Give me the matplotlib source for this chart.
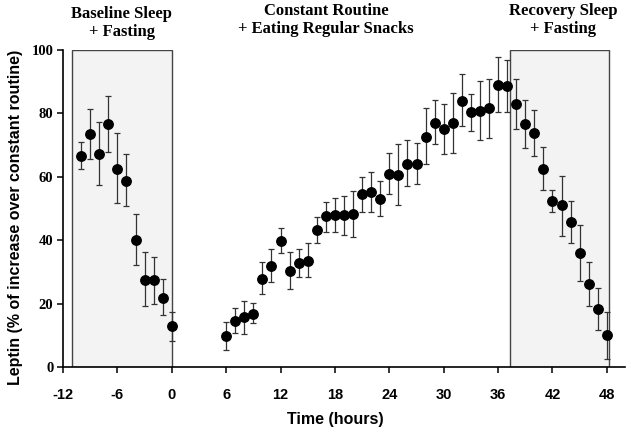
import numpy as np
import matplotlib.pyplot as plt
from matplotlib.patches import Rectangle

# Baseline sleep + fasting (hours -10 .. 0)
base_hours = [-10, -9, -8, -7, -6, -5, -4, -3, -2, -1, 0]
base_mean = [66.7, 73.6, 67.3, 76.7, 62.6, 58.6, 40.2, 27.4, 27.3, 21.9, 12.8]
base_upper = [71.1, 81.5, 77.3, 85.5, 73.7, 67.1, 48.3, 36.2, 34.8, 27.7, 17.4]
base_lower = [62.4, 65.6, 57.3, 67.7, 51.6, 50.8, 32.1, 19.2, 19.9, 16.3, 8.3]

# Constant routine (6 .. 37) and recovery sleep (38 .. 48)
cr_hours = list(range(6, 49))
cr_mean = [9.8, 14.5, 15.7, 16.8, 27.9, 32.0, 39.8, 30.4, 32.9, 33.4, 43.2,
           47.6, 47.9, 47.9, 48.3, 54.5, 55.2, 53.0, 60.8, 60.6, 64.0, 64.0,
           72.6, 77.1, 75.0, 76.9, 84.0, 80.3, 80.9, 81.6, 89.0, 88.5,
           83.0, 76.7, 73.7, 62.5, 52.3, 51.0, 45.7, 36.1, 26.2, 18.3, 10.0]
cr_upper = [14.3, 18.6, 20.8, 20.2, 33.0, 37.2, 43.9, 36.3, 37.2, 39.2, 47.2,
            52.1, 53.2, 53.9, 55.6, 60.0, 61.4, 58.6, 67.4, 70.3, 71.6, 70.6,
            81.6, 84.2, 83.0, 86.3, 92.3, 86.0, 90.1, 90.9, 97.7, 96.8,
            90.9, 84.2, 81.1, 69.5, 55.8, 60.3, 52.5, 44.9, 33.0, 24.8, 17.3]
cr_lower = [5.3, 10.8, 10.4, 13.8, 23.1, 26.8, 35.9, 24.5, 28.5, 28.3, 39.2,
            42.7, 42.5, 41.6, 41.1, 48.8, 48.8, 47.7, 54.5, 51.1, 57.1, 57.6,
            64.0, 70.3, 67.2, 67.4, 76.1, 74.5, 71.6, 72.2, 80.3, 80.3,
            75.1, 69.2, 66.7, 55.7, 48.9, 41.4, 39.2, 27.1, 19.3, 11.8, 2.5]

# shaded periods (hours)
baseline_box = (-11, 0)
recovery_box = (37.3, 48.2)

x_ticks = [-12, -6, 0, 6, 12, 18, 24, 30, 36, 42, 48]
y_ticks = [0, 20, 40, 60, 80, 100]

fig = plt.figure(figsize=(6.31, 4.32), dpi=100)
ax = fig.add_axes([63 / 631, 1 - 367 / 432, 562 / 631, 317 / 432])

for x0, x1 in [baseline_box, recovery_box]:
    ax.add_patch(Rectangle((x0, 0), x1 - x0, 100, facecolor='#f3f3f3',
                           edgecolor='#444444', linewidth=1.0, zorder=1))

hours = base_hours + cr_hours
mean = np.array(base_mean + cr_mean)
upper = np.array(base_upper + cr_upper)
lower = np.array(base_lower + cr_lower)
ax.errorbar(hours, mean, yerr=[mean - lower, upper - mean], fmt='o',
            color='black', markersize=6.8, ecolor='#333333', elinewidth=0.9,
            capsize=2.2, capthick=0.9, zorder=3, clip_on=False)

ax.set_xlim(-12, 50)
ax.set_ylim(0, 100)
ax.set_xticks(x_ticks)
ax.set_yticks(y_ticks)
ax.set_xticklabels([str(t) for t in x_ticks], fontfamily='Liberation Sans',
                   fontweight='bold', fontsize=10.5)
ax.set_yticklabels([str(t) for t in y_ticks], fontfamily='Liberation Serif',
                   fontweight='bold', fontsize=10.5)
ax.tick_params(direction='out', length=4, width=1.1)
ax.tick_params(axis='x', pad=11)
ax.tick_params(axis='y', pad=3)
for s in ['top', 'right']:
    ax.spines[s].set_visible(False)
for s in ['left', 'bottom']:
    ax.spines[s].set_linewidth(1.2)

ax.set_xlabel('Time (hours)', fontfamily='Liberation Sans', fontweight='bold',
              fontsize=11.5)
ax.xaxis.set_label_coords(0.484, -0.142)
ax.set_ylabel('Leptin (% of increase over constant routine)',
              fontfamily='Liberation Sans', fontweight='bold', fontsize=11.5)
ax.yaxis.set_label_coords(-0.072, 0.472)

title_kw = dict(ha='center', va='center', fontfamily='Liberation Serif',
                fontweight='bold', fontsize=12, linespacing=1.2,
                transform=ax.transData, clip_on=False)
fig.text(-5.5, 108.5, 'Baseline Sleep\n+ Fasting', **title_kw)
fig.text(17.0, 109.5, 'Constant Routine\n+ Eating Regular Snacks', **title_kw)
fig.text(43.2, 109.5, 'Recovery Sleep\n+ Fasting', **title_kw)

fig.savefig('out.png', dpi=100)
